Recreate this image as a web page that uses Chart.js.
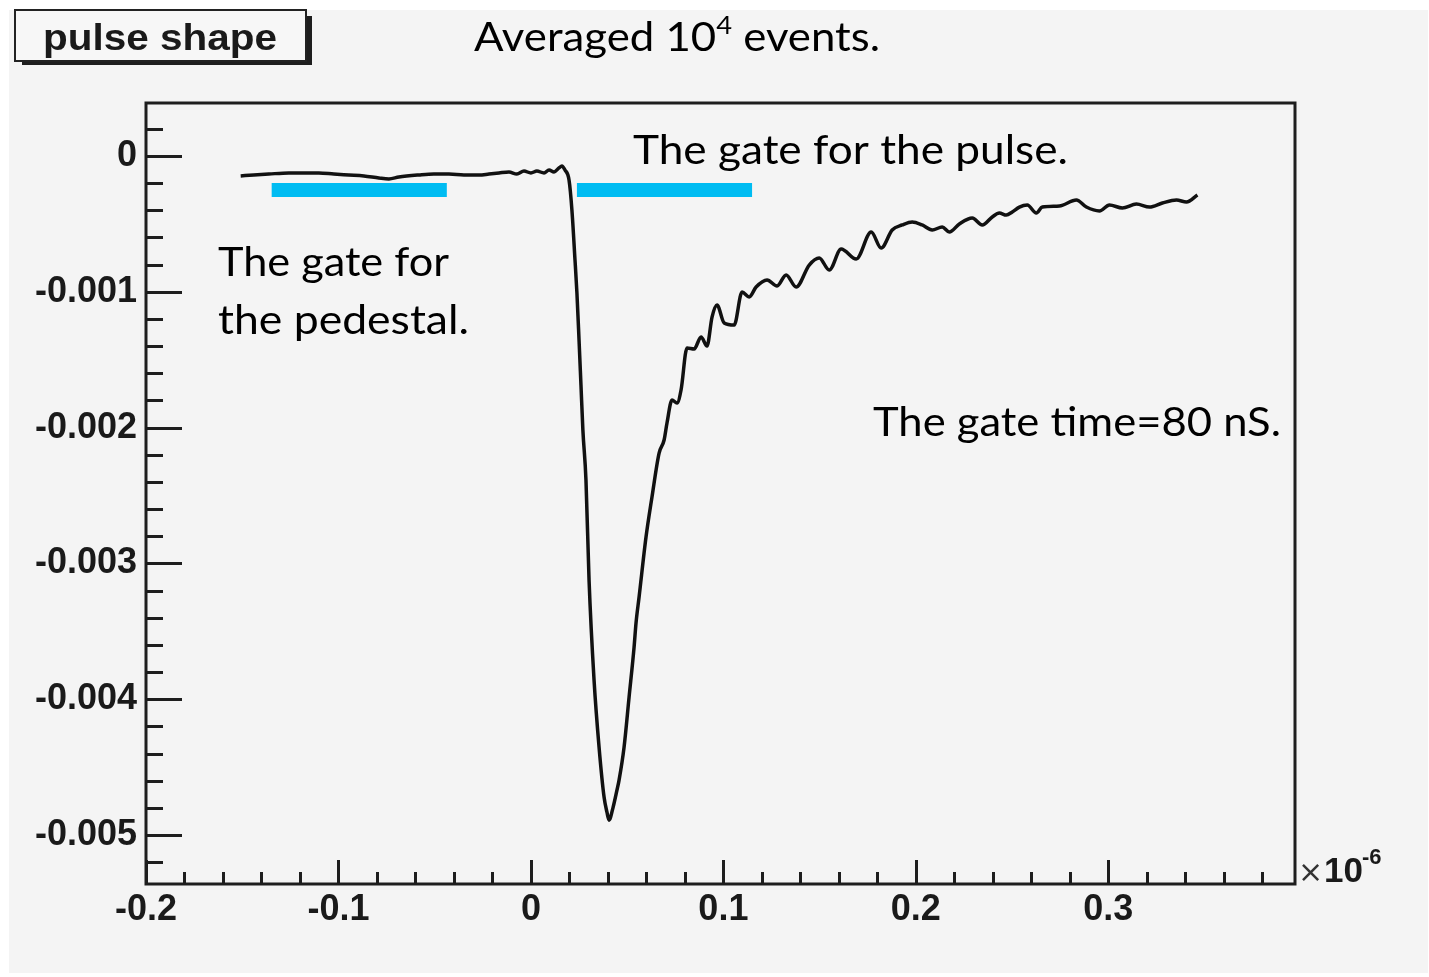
<!DOCTYPE html>
<html><head><meta charset="utf-8">
<script src="https://cdn.jsdelivr.net/npm/chart.js@4.4.1/dist/chart.umd.min.js"></script>
<style>html,body{margin:0;padding:0;background:#fff;overflow:hidden}#wrap{position:relative;width:1429px;height:977px}canvas{display:block}</style>
</head><body><div id="wrap"><canvas id="c" width="1429" height="977"></canvas></div>
<script>
// time in units of 1e-6 s
const pulseTime = [
 -0.1508,-0.1440,-0.1362,-0.1258,-0.1180,-0.1102,-0.1024,-0.0946,-0.0868,-0.0790,
 -0.0738,-0.0686,-0.0582,-0.0504,-0.0426,-0.0348,-0.0270,-0.0218,-0.0166,-0.0114,
 -0.0073,-0.0036,0.0000,0.0031,0.0068,0.0094,0.0120,0.0146,0.0161,0.0177,
 0.0198,0.0213,0.0229,0.0239,0.0250,0.0260,0.0270,0.0286,0.0302,0.0328,
 0.0354,0.0380,0.0395,0.0406,0.0426,0.0447,0.0458,0.0484,0.0510,0.0536,
 0.0546,0.0562,0.0598,0.0629,0.0666,0.0692,0.0707,0.0733,0.0759,0.0780,
 0.0811,0.0848,0.0884,0.0915,0.0941,0.0967,0.1004,0.1056,0.1097,0.1134,
 0.1170,0.1227,0.1279,0.1326,0.1378,0.1446,0.1498,0.1550,0.1612,0.1690,
 0.1768,0.1820,0.1877,0.1929,0.1981,0.2033,0.2085,0.2137,0.2174,0.2226,
 0.2293,0.2345,0.2397,0.2434,0.2470,0.2501,0.2538,0.2579,0.2626,0.2657,
 0.2746,0.2834,0.2886,0.2954,0.3006,0.3073,0.3146,0.3214,0.3281,0.3354,
 0.3406,0.3463
];
const pulseAmp = [
 -0.000147,-0.000140,-0.000133,-0.000125,-0.000125,-0.000125,-0.000133,-0.000140,-0.000147,-0.000162,
 -0.000169,-0.000155,-0.000140,-0.000133,-0.000133,-0.000140,-0.000140,-0.000133,-0.000125,-0.000118,
 -0.000133,-0.000111,-0.000125,-0.000111,-0.000125,-0.000103,-0.000118,-0.000088,-0.000074,-0.000103,
 -0.000177,-0.000398,-0.000766,-0.001009,-0.001355,-0.001686,-0.002018,-0.002386,-0.003122,-0.003859,
 -0.004352,-0.004720,-0.004831,-0.004890,-0.004801,-0.004669,-0.004595,-0.004352,-0.003984,-0.003616,
 -0.003439,-0.003247,-0.002806,-0.002511,-0.002187,-0.002091,-0.001966,-0.001797,-0.001819,-0.001723,
 -0.001414,-0.001421,-0.001333,-0.001399,-0.001186,-0.001097,-0.001230,-0.001245,-0.001002,-0.001038,
 -0.000965,-0.000913,-0.000957,-0.000876,-0.000965,-0.000803,-0.000751,-0.000840,-0.000685,-0.000759,
 -0.000560,-0.000678,-0.000545,-0.000508,-0.000486,-0.000508,-0.000545,-0.000523,-0.000560,-0.000501,
 -0.000457,-0.000508,-0.000449,-0.000420,-0.000435,-0.000412,-0.000376,-0.000361,-0.000420,-0.000376,
 -0.000368,-0.000324,-0.000376,-0.000405,-0.000361,-0.000383,-0.000354,-0.000376,-0.000346,-0.000324,
 -0.000339,-0.000287
];
const pedestalGate = [-0.1347, -0.0437];
const pulseGate = [0.0239, 0.1149];
const gateLevel = -0.00025;
const xTickValues = [-0.2, -0.1, 0, 0.1, 0.2, 0.3];
const yTickValues = [0, -0.001, -0.002, -0.003, -0.004, -0.005];
const xRange = [-0.2, 0.397];
const yRange = [-0.00536, 0.00039];
const xMinorStep = 0.02, yMinorStep = 0.0002;

const pulsePoints = pulseTime.map((t, i) => ({x: t, y: pulseAmp[i]}));
const gateColor = '#00BCF2';
const tickFont = {family: '"Liberation Sans", Arial, sans-serif', size: 36, weight: 'bold'};

function fitText(ctx, pieces, x, baseline, targetW) {
  const fam = 'Lato, "Open Sans", sans-serif';
  let w = 0;
  pieces.forEach(p => { ctx.font = p.size + 'px ' + fam; p.w = ctx.measureText(p.t).width; w += p.w; });
  const sx = targetW / w;
  ctx.save();
  ctx.translate(x, baseline);
  ctx.scale(sx, 1);
  let cx = 0;
  pieces.forEach(p => { ctx.font = p.size + 'px ' + fam; ctx.fillText(p.t, cx, -(p.rise || 0)); cx += p.w; });
  ctx.restore();
}

const deco = {
  id: 'deco',
  beforeDraw(chart) {
    const ctx = chart.ctx;
    ctx.save();
    ctx.fillStyle = '#ffffff';
    ctx.fillRect(0, 0, chart.width, chart.height);
    ctx.fillStyle = '#f4f4f4';
    ctx.fillRect(9, 10, chart.width - 10, chart.height - 14);
    ctx.restore();
  },
  afterDraw(chart) {
    const ctx = chart.ctx, ca = chart.chartArea;
    const xs = chart.scales.x, ys = chart.scales.y;
    ctx.save();
    ctx.strokeStyle = '#1e1e1e';
    ctx.lineWidth = 3;
    ctx.strokeRect(ca.left, ca.top, ca.right - ca.left, ca.bottom - ca.top);
    ctx.beginPath();
    for (let k = Math.ceil(yRange[0] / yMinorStep - 1e-9); k * yMinorStep <= yRange[1] + 1e-12; k++) {
      const py = Math.round(ys.getPixelForValue(k * yMinorStep)) + 0.5;
      const len = (k % 5 === 0) ? 36 : 17;
      ctx.moveTo(ca.left, py); ctx.lineTo(ca.left + len, py);
    }
    for (let k = Math.ceil(xRange[0] / xMinorStep - 1e-9); k * xMinorStep <= xRange[1] - 0.005; k++) {
      const px = Math.round(xs.getPixelForValue(k * xMinorStep)) + 0.5;
      const len = (k % 5 === 0) ? 24 : 12;
      ctx.moveTo(px, ca.bottom); ctx.lineTo(px, ca.bottom - len);
    }
    ctx.stroke();

    ctx.fillStyle = '#333';
    ctx.textBaseline = 'alphabetic';
    ctx.font = '30px "DejaVu Sans", sans-serif';
    ctx.fillText('\u00d7', ca.right + 3, 882);
    ctx.fillStyle = '#1a1a1a';
    ctx.font = 'bold 35px "Liberation Sans", Arial, sans-serif';
    ctx.fillText('10', ca.right + 29, 882);
    ctx.font = 'bold 22px "Liberation Sans", Arial, sans-serif';
    ctx.fillText('-6', ca.right + 67, 864);

    ctx.fillStyle = '#1e1e1e';
    ctx.fillRect(22, 60, 290, 5);
    ctx.fillRect(306, 16, 6, 49);
    ctx.fillStyle = '#f7f7f7';
    ctx.fillRect(15, 10, 291, 51);
    ctx.strokeStyle = '#222';
    ctx.lineWidth = 2;
    ctx.strokeRect(15, 10, 291, 51);
    ctx.fillStyle = '#1a1a1a';
    ctx.font = 'bold 37px "Liberation Sans", Arial, sans-serif';
    const tw = ctx.measureText('pulse shape').width;
    ctx.save();
    ctx.translate(43, 50);
    ctx.scale(234 / tw, 1);
    ctx.fillText('pulse shape', 0, 0);
    ctx.restore();

    ctx.fillStyle = '#000';
    fitText(ctx, [{t: 'Averaged 10', size: 40}, {t: '4', size: 25, rise: 17}, {t: ' events.', size: 40}], 474, 51, 406);
    fitText(ctx, [{t: 'The gate for the pulse.', size: 40}], 633, 164, 435);
    fitText(ctx, [{t: 'The gate for', size: 40}], 218, 276, 231);
    fitText(ctx, [{t: 'the pedestal.', size: 40}], 218, 334, 251);
    fitText(ctx, [{t: 'The gate time=80 nS.', size: 40}], 873, 436, 408);
    ctx.restore();
  }
};

new Chart(document.getElementById('c'), {
  type: 'scatter',
  data: {
    datasets: [
      {data: [{x: pedestalGate[0], y: gateLevel}, {x: pedestalGate[1], y: gateLevel}], showLine: true, borderColor: gateColor, borderWidth: 14, pointRadius: 0, borderCapStyle: 'butt'},
      {data: [{x: pulseGate[0], y: gateLevel}, {x: pulseGate[1], y: gateLevel}], showLine: true, borderColor: gateColor, borderWidth: 14, pointRadius: 0, borderCapStyle: 'butt'},
      {data: pulsePoints, showLine: true, borderColor: '#111', borderWidth: 3.5, pointRadius: 0, tension: 0.3, cubicInterpolationMode: 'monotone', borderJoinStyle: 'round'}
    ]
  },
  options: {
    responsive: false, animation: false, devicePixelRatio: 1,
    layout: {padding: {left: 0, right: 134, top: 103, bottom: 0}},
    plugins: {legend: {display: false}, tooltip: {enabled: false}, title: {display: false}},
    scales: {
      x: {
        type: 'linear', min: xRange[0], max: xRange[1],
        afterBuildTicks: s => { s.ticks = xTickValues.map(v => ({value: v})); },
        afterFit: s => { s.height = 93; },
        grid: {display: false, drawTicks: false}, border: {display: false},
        ticks: {font: tickFont, color: '#1a1a1a', padding: 4, maxRotation: 0, autoSkip: false,
          callback: v => String(+Number(v).toFixed(1))}
      },
      y: {
        type: 'linear', min: yRange[0], max: yRange[1],
        afterBuildTicks: s => { s.ticks = yTickValues.map(v => ({value: v})); },
        afterFit: s => { s.width = 146; },
        grid: {display: false, drawTicks: false}, border: {display: false},
        ticks: {font: tickFont, color: '#1a1a1a', padding: 9, autoSkip: false,
          callback: v => String(+Number(v).toFixed(3))}
      }
    }
  },
  plugins: [deco]
});
</script></body></html>
